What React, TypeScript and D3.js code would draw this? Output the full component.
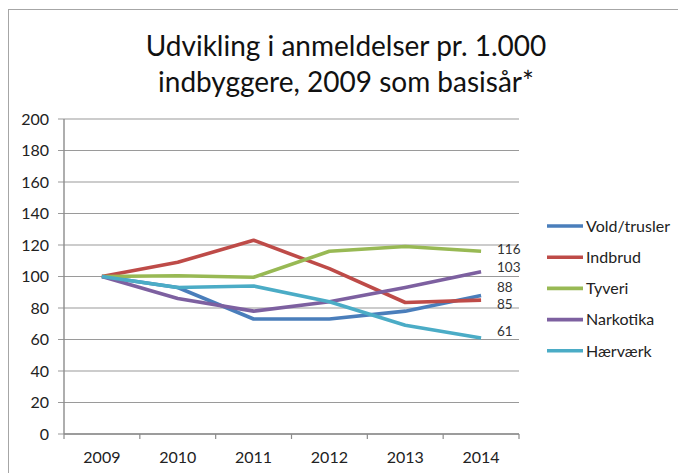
import React from "react";
import * as d3 from "d3";

const years = ["2009", "2010", "2011", "2012", "2013", "2014"];
const seriesNames = ["Vold/trusler", "Indbrud", "Tyveri", "Narkotika", "Hærværk"];
const voldTrusler = [100, 93, 73, 73, 78, 88];
const indbrud = [100, 109, 123, 105, 83.5, 85];
const tyveri = [100, 100.5, 99.5, 116, 119, 116];
const narkotika = [100, 86, 78, 84, 93, 103];
const haervaerk = [100, 93, 94, 84, 69, 61];
const endLabels = ["88", "85", "116", "103", "61"];
const yTicks = [0, 20, 40, 60, 80, 100, 120, 140, 160, 180, 200];
const titleLines = ["Udvikling i anmeldelser pr. 1.000", "indbyggere, 2009 som basisår*"];

const seriesValues = [voldTrusler, indbrud, tyveri, narkotika, haervaerk];
const colors = ["#4A7EBB", "#BE4B48", "#98B954", "#7D60A0", "#4BACC6"];
const labelDy = [-8, 4, -2, -5, -7];

const FONT = "Lato, 'Open Sans', sans-serif";

export default function App() {
  const W = 678, H = 473;
  const left = 64, right = 519, top = 119, bottom = 434;
  const x = d3.scaleBand<string>().domain(years).range([left, right]);
  const y = d3.scaleLinear().domain([0, 200]).range([bottom, top]);
  const cx = (yr: string) => (x(yr) as number) + x.bandwidth() / 2;
  const line = d3
    .line<number>()
    .x((_, i) => cx(years[i]))
    .y((v) => y(v));

  const legendX = 547;
  const legendY0 = 226;
  const legendStep = 31.2;

  return (
    <svg width={W} height={H} style={{ position: "absolute", left: 0, top: 0, background: "#fff" }}>
      <rect x={8.5} y={9.5} width={720} height={520} fill="#fff" stroke="#a6a6a6" strokeWidth={1} />
      {titleLines.map((t, i) => (
        <text key={i} x={346} y={56 + i * 36} textAnchor="middle" fontFamily={FONT} fontSize={28} fill="#111">
          {t}
        </text>
      ))}
      {yTicks.map((t) => (
        <g key={t}>
          <line x1={58} x2={right} y1={y(t)} y2={y(t)} stroke="#9a9a9a" strokeWidth={1.2} />
          <text x={49} y={y(t)} dy="0.36em" textAnchor="end" fontFamily={FONT} fontSize={16} fill="#222">
            {t}
          </text>
        </g>
      ))}
      <line x1={left} x2={left} y1={top} y2={bottom} stroke="#8c8c8c" strokeWidth={1.4} />
      <line x1={left} x2={right} y1={bottom} y2={bottom} stroke="#8c8c8c" strokeWidth={1.4} />
      {years.map((yr) => (
        <line key={"t" + yr} x1={x(yr) as number} x2={x(yr) as number} y1={bottom} y2={bottom + 5} stroke="#8c8c8c" strokeWidth={1.2} />
      ))}
      <line x1={right} x2={right} y1={bottom} y2={bottom + 5} stroke="#8c8c8c" strokeWidth={1.2} />
      {years.map((yr) => (
        <text key={"l" + yr} x={cx(yr)} y={463} textAnchor="middle" fontFamily={FONT} fontSize={16} fill="#222">
          {yr}
        </text>
      ))}
      {seriesValues.map((vals, i) => (
        <path key={i} d={line(vals) as string} fill="none" stroke={colors[i]} strokeWidth={3.6} strokeLinejoin="round" />
      ))}
      {seriesValues.map((vals, i) => (
        <text
          key={"e" + i}
          x={497}
          y={y(vals[vals.length - 1]) + labelDy[i]}
          dy="0.36em"
          fontFamily={FONT}
          fontSize={13.5}
          fill="#333"
        >
          {endLabels[i]}
        </text>
      ))}
      {seriesNames.map((n, i) => (
        <g key={"lg" + i}>
          <line
            x1={legendX}
            x2={legendX + 36}
            y1={legendY0 + i * legendStep}
            y2={legendY0 + i * legendStep}
            stroke={colors[i]}
            strokeWidth={3.6}
          />
          <text x={586} y={legendY0 + i * legendStep} dy="0.36em" fontFamily={FONT} fontSize={16} fill="#222">
            {n}
          </text>
        </g>
      ))}
    </svg>
  );
}
